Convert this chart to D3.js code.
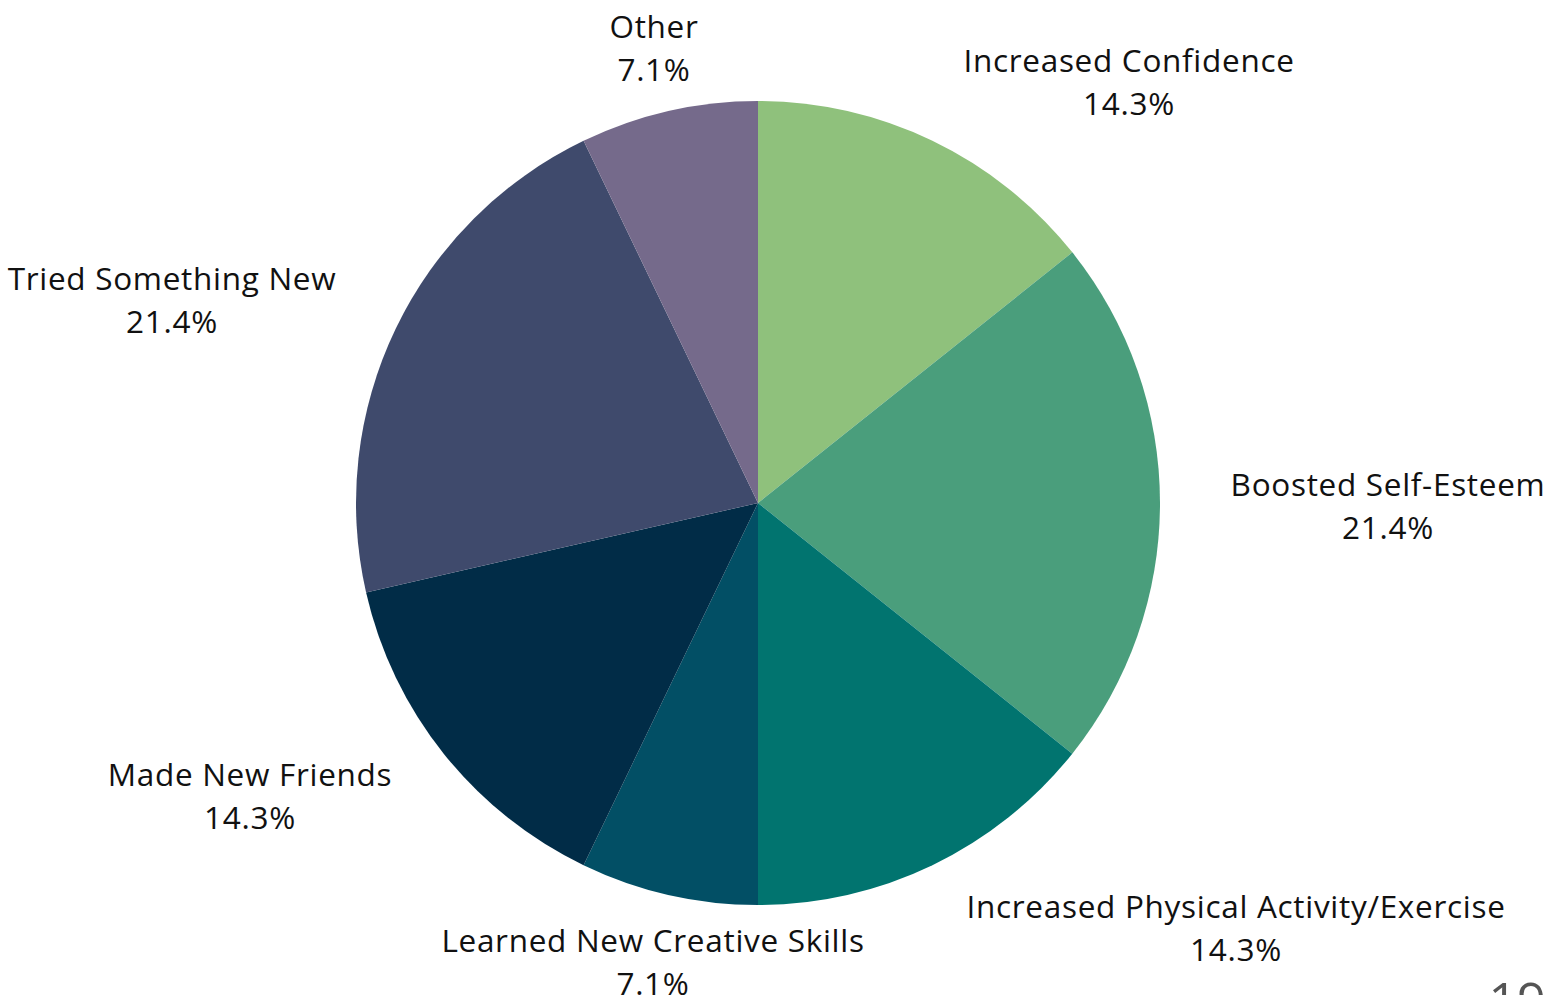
<!DOCTYPE html>
<html>
<head>
<meta charset="utf-8">
<script src="https://cdn.jsdelivr.net/npm/d3@7"></script>
<style>
  html, body { margin: 0; padding: 0; background: #fff; overflow: hidden; }
  svg { display: block; }
  .lbl { font-family: "Open Sans", sans-serif; font-size: 31.5px; letter-spacing: 0.7px; fill: #111; }
</style>
</head>
<body>
<div id="chart"></div>
<script>
// data
const categories = [
  'Increased Confidence',
  'Boosted Self-Esteem',
  'Increased Physical Activity/Exercise',
  'Learned New Creative Skills',
  'Made New Friends',
  'Tried Something New',
  'Other'
];
const counts = [2, 3, 2, 1, 2, 3, 1];
const colors = ['#8fc17c', '#4a9e7c', '#01746f', '#024f65', '#012c47', '#3f4a6c', '#756a8b'];

// label anchors, offset from pie centre (layout only)
const labelOffsets = [
  [371, -443], [630, -19], [478, 403], [-105, 437], [-508, 271], [-586, -225], [-104, -477]
];

const width = 1554;
const height = 995;
const cx = 758;
const cy = 503;
const radius = 402;

const svg = d3.select('#chart').append('svg')
  .attr('width', width)
  .attr('height', height);

const total = d3.sum(counts);
const data = categories.map((c, i) => ({ name: c, value: counts[i], color: colors[i], off: labelOffsets[i] }));

const pie = d3.pie().value(d => d.value).sort(null);
const arc = d3.arc().innerRadius(0).outerRadius(radius);

const $g = svg.append('g').attr('transform', `translate(${cx}, ${cy})`);

$g.selectAll('.slice')
  .data(pie(data))
  .enter()
  .append('path')
  .attr('class', 'slice')
  .attr('d', arc)
  .attr('fill', d => d.data.color);

const fmt = d3.format('.1%');
const $labels = $g.selectAll('.lbl')
  .data(data)
  .enter()
  .append('text')
  .attr('class', 'lbl')
  .attr('text-anchor', 'middle')
  .attr('transform', d => `translate(${d.off[0]}, ${d.off[1]})`);

$labels.append('tspan')
  .attr('x', 0)
  .attr('dy', 12)
  .text(d => d.name);
$labels.append('tspan')
  .attr('x', 0)
  .attr('dy', 43)
  .text(d => fmt(d.value / total));

// page number, cut off at the bottom edge
svg.append('text')
  .attr('x', 1517)
  .attr('y', 1018)
  .attr('text-anchor', 'middle')
  .style('font-family', '"Open Sans", sans-serif')
  .style('font-size', '50px')
  .style('fill', '#555')
  .text('19');
</script>
</body>
</html>
